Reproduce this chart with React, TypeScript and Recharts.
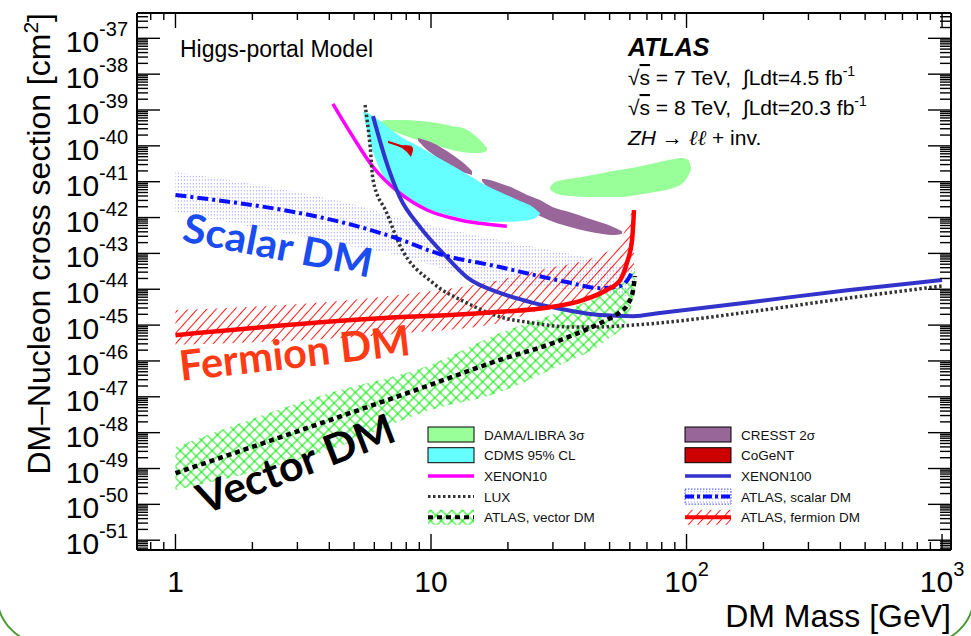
import React from "react";
import { Area, ComposedChart, Legend, Line, XAxis, YAxis } from "recharts";

const W = 971;
const H = 636;
const FONT = '"Liberation Sans", Arial, Helvetica, sans-serif';
const TAG_FONT = 'Lato, "Open Sans", "DejaVu Sans", sans-serif';

// axis ranges: DM mass in GeV, cross section in cm^2
const massRange = [0.707, 1084];
const xsecRange = [5.33e-52, 5.08e-37];
const massDecades = [-1, 0, 1, 2, 3];
const xsecDecades = [-52, -51, -50, -49, -48, -47, -46, -45, -44, -43, -42, -41, -40, -39, -38, -37];
const minorSteps = [1, 2, 3, 4, 5, 6, 7, 8, 9];

// all cross sections below are log10(sigma / cm^2)

// ATLAS, scalar DM
const scalarMass = [1.0, 8.05, 10.2, 18.6, 34, 45.8, 55, 60.1, 61.2];
const scalarLimit = [-41.37, -42.68, -42.96, -43.38, -43.8, -43.97, -43.91, -43.63, -43.52];
const scalarBandMass = [1.0, 2.09, 4.69, 7.55, 18.6, 45.8, 61.8];
const scalarBandLow = [-41.84, -42.29, -42.77, -43.06, -43.88, -44.07, -44.24];
const scalarBandHigh = [-40.73, -41.09, -41.59, -42.01, -42.63, -43.19, -43.41];

// ATLAS, fermion DM
const fermionMass = [1.0, 8.05, 11.9, 18.6, 29.2, 39.3, 48.7, 55, 58.4, 61.2, 62.3];
const fermionLimit = [-45.28, -44.77, -44.72, -44.63, -44.5, -44.3, -44.02, -43.74, -43.27, -42.63, -41.79];
const fermionBandMass = [1.0, 8.05, 18.6, 26.7, 45.8, 55, 62.3];
const fermionBandLow = [-45.55, -45.22, -44.94, -44.58, -44.16, -43.83, -43.52];
const fermionBandHigh = [-44.58, -44.13, -43.74, -43.46, -43.04, -42.63, -41.65];

// ATLAS, vector DM
const vectorMass = [1.0, 9.9, 18.6, 30.0, 35.9, 41.9, 47.0, 55.0, 59.0, 61.8, 62.8];
const vectorLimit = [-49.13, -46.67, -45.97, -45.5, -45.28, -45.08, -44.91, -44.63, -44.41, -44.02, -43.63];
const vectorBandMass = [1.0, 4.03, 9.91, 18.6, 32.0, 48.7, 58.5, 62.8];
const vectorBandLow = [-49.6, -48.48, -47.37, -46.87, -46.11, -45.42, -44.86, -44.08];
const vectorBandHigh = [-48.4, -46.89, -46.11, -45.22, -44.63, -44.08, -43.69, -43.41];

// direct detection limits
const xenon10Mass = [4.13, 4.95, 5.93, 7.55, 9.65, 13.0, 19.8];
const xenon10Limit = [-38.83, -39.75, -40.59, -41.32, -41.79, -42.07, -42.24];
const luxMass = [5.52, 5.78, 5.93, 6.71, 7.55, 10.2, 13.8, 18.6, 25.1, 34, 45.8, 61.8, 78.6, 177, 435, 1000];
const luxLimit = [-38.86, -40.03, -40.95, -41.87, -42.77, -43.83, -44.38, -44.77, -44.94, -45.05, -45.05, -45.0, -44.94, -44.63, -44.24, -43.91];
const xenon100Mass = [5.93, 6.71, 7.55, 9.05, 11.5, 13.8, 18.6, 25.1, 34, 45.8, 61.8, 78.6, 177, 435, 1000];
const xenon100Limit = [-39.17, -40.48, -41.43, -42.26, -43.1, -43.66, -44.1, -44.38, -44.58, -44.72, -44.75, -44.66, -44.36, -44.02, -43.74];

// signal regions
const damaLoMass = [6.32, 6.71, 7.77, 9.05, 10.56, 12.19, 13.35, 14.47, 15.55, 16.56];
const damaLoLow = [-39.39, -39.5, -39.7, -39.86, -40.0, -40.12, -40.17, -40.2, -40.2, -40.14];
const damaLoHigh = [-39.33, -39.28, -39.28, -39.31, -39.36, -39.45, -39.5, -39.64, -39.84, -40.06];
const damaHiMass = [29.2, 30.6, 35.0, 40.8, 47.0, 55.0, 64.0, 75.3, 86.2, 96.0, 101.4, 104.1];
const damaHiLow = [-41.2, -41.32, -41.4, -41.43, -41.43, -41.43, -41.37, -41.29, -41.2, -41.06, -40.84, -40.67];
const damaHiHigh = [-41.15, -41.01, -40.92, -40.84, -40.76, -40.67, -40.59, -40.48, -40.39, -40.34, -40.39, -40.59];
const cdmsMass = [5.42, 5.62, 5.93, 6.32, 6.91, 7.77, 9.05, 10.56, 12.4, 14.2, 16.6, 19.1, 22.3, 25.1, 26.7];
const cdmsLow = [-39.07, -39.56, -40.17, -40.67, -41.09, -41.43, -41.68, -41.85, -41.98, -42.07, -42.12, -42.12, -42.1, -42.04, -41.9];
const cdmsHigh = [-39.06, -39.08, -39.17, -39.31, -39.53, -39.78, -40.03, -40.31, -40.59, -40.84, -41.12, -41.32, -41.54, -41.71, -41.87];
const cresstLoMass = [8.9, 9.47, 10.37, 11.5, 12.64, 13.59, 14.47];
const cresstLoLow = [-39.86, -40.06, -40.28, -40.48, -40.65, -40.76, -40.81];
const cresstLoHigh = [-39.78, -39.84, -39.95, -40.14, -40.34, -40.51, -40.7];
const cresstHiMass = [15.83, 17.02, 18.6, 21.3, 23.8, 26.7, 30.0, 35.0, 40.8, 47.0, 51.6, 55.9];
const cresstHiLow = [-40.98, -41.23, -41.4, -41.59, -41.79, -41.96, -42.12, -42.26, -42.38, -42.46, -42.49, -42.46];
const cresstHiHigh = [-40.92, -40.95, -41.04, -41.2, -41.37, -41.51, -41.71, -41.85, -42.01, -42.15, -42.26, -42.38];
const cogentMass = [6.79, 7.23, 7.7, 8.05, 8.35, 8.5];
const cogentLow = [-39.92, -39.98, -40.06, -40.17, -40.31, -40.14];
const cogentHigh = [-39.86, -39.92, -39.98, -39.98, -40.0, -40.06];

const legendLeft = [
  { kind: "dama", label: "DAMA/LIBRA 3σ" },
  { kind: "cdms", label: "CDMS 95% CL" },
  { kind: "xenon10", label: "XENON10" },
  { kind: "lux", label: "LUX" },
  { kind: "vector", label: "ATLAS, vector DM" },
];
const legendRight = [
  { kind: "cresst", label: "CRESST 2σ" },
  { kind: "cogent", label: "CoGeNT" },
  { kind: "xenon100", label: "XENON100" },
  { kind: "scalar", label: "ATLAS, scalar DM" },
  { kind: "fermion", label: "ATLAS, fermion DM" },
];

const curve = (mass: number[], logs: number[]) => mass.map((m, i) => ({ m, v: 10 ** logs[i] }));
const band = (mass: number[], lo: number[], hi: number[]) =>
  mass.map((m, i) => ({ m, v: [10 ** lo[i], 10 ** hi[i]] }));

const inRange = (v: number, r: number[]) => v >= r[0] * 0.999 && v <= r[1] * 1.001;
const logTicks = (decades: number[], r: number[]) =>
  decades.flatMap((d) => minorSteps.map((k) => k * 10 ** d)).filter((v) => inRange(v, r));
const massTicks = logTicks(massDecades, massRange).filter((v) => v > 0.75);
const xsecTicks = logTicks(xsecDecades, xsecRange);

const decadeOf = (v: number) => {
  const l = Math.log10(v);
  const e = Math.round(l);
  return { e, major: Math.abs(l - e) < 1e-6 };
};

const C = {
  dama: "#99ff99",
  cdms: "#66ffff",
  cresst: "#996699",
  cogent: "#cc0000",
  xenon10: "#ff00ff",
  xenon100: "#3333cc",
  lux: "#333333",
  scalar: "#0a10ff",
  fermion: "#ff0000",
  vector: "#000000",
};

function LeftTick({ x, y, payload }: any) {
  const { e, major } = decadeOf(payload.value);
  return (
    <g>
      <line x1={x} x2={x + (major ? 23 : 11)} y1={y} y2={y} stroke="#000" strokeWidth={1.4} />
      {major && (
        <text x={x - 9} y={y + 14} textAnchor="end" fontFamily={FONT} fontSize={30} fill="#000">
          10<tspan dy={-16} fontSize={20}>{e}</tspan>
        </text>
      )}
    </g>
  );
}

function RightTick({ x, y, payload }: any) {
  const { major } = decadeOf(payload.value);
  return <line x1={x - (major ? 23 : 11)} x2={x} y1={y} y2={y} stroke="#000" strokeWidth={1.4} />;
}

function BottomTick({ x, y, payload }: any) {
  const { e, major } = decadeOf(payload.value);
  return (
    <g>
      <line x1={x} x2={x} y1={y} y2={y - (major ? 16 : 8)} stroke="#000" strokeWidth={1.4} />
      {major && (
        <text x={x} y={y + 42} textAnchor="middle" fontFamily={FONT} fontSize={30} fill="#000">
          {e === 0 ? "1" : e === 1 ? "10" : (
            <>
              10<tspan dy={-16} fontSize={20}>{e}</tspan>
            </>
          )}
        </text>
      )}
    </g>
  );
}

function TopTick({ x, y, payload }: any) {
  const { major } = decadeOf(payload.value);
  return <line x1={x} x2={x} y1={y} y2={y + (major ? 15 : 7)} stroke="#000" strokeWidth={1.4} />;
}

function Swatch({ kind, x, y }: { kind: string; x: number; y: number }) {
  const w = 46;
  const box = (fill: string, stroke = "#000") => (
    <rect x={x} y={y - 7.5} width={w} height={15} fill={fill} stroke={stroke} strokeWidth={1} />
  );
  switch (kind) {
    case "dama":
      return box(C.dama);
    case "cdms":
      return box(C.cdms);
    case "cresst":
      return box(C.cresst);
    case "cogent":
      return box(C.cogent);
    case "xenon10":
      return <line x1={x} x2={x + w} y1={y} y2={y} stroke={C.xenon10} strokeWidth={3.5} />;
    case "xenon100":
      return <line x1={x} x2={x + w} y1={y} y2={y} stroke={C.xenon100} strokeWidth={3.5} />;
    case "lux":
      return <line x1={x} x2={x + w} y1={y} y2={y} stroke={C.lux} strokeWidth={3} strokeDasharray="2.5 2.5" />;
    case "vector":
      return (
        <g>
          <rect x={x} y={y - 7.5} width={w} height={15} fill="url(#crossGreen)" />
          <line x1={x} x2={x + w} y1={y} y2={y} stroke={C.vector} strokeWidth={4} strokeDasharray="5 4" />
        </g>
      );
    case "scalar":
      return (
        <g>
          <rect x={x} y={y - 7.5} width={w} height={15} fill="url(#dotsBlue)" stroke="#3a46ff" strokeWidth={1} strokeDasharray="1.5 1.5" />
          <line x1={x} x2={x + w} y1={y} y2={y} stroke={C.scalar} strokeWidth={4} strokeDasharray="9 3 3 3" />
        </g>
      );
    case "fermion":
      return (
        <g>
          <rect x={x} y={y - 7.5} width={w} height={15} fill="url(#hatchRed)" />
          <line x1={x} x2={x + w} y1={y} y2={y} stroke={C.fermion} strokeWidth={4} />
        </g>
      );
    default:
      return null;
  }
}

function LegendBox() {
  const rowY = (i: number) => 14.5 + i * 20.7;
  const col = (items: typeof legendLeft, sx: number, tx: number) =>
    items.map((it, i) => (
      <g key={it.label}>
        <Swatch kind={it.kind} x={sx} y={rowY(i)} />
        <text x={tx} y={rowY(i) + 5} fontFamily={FONT} fontSize={13.5} fill="#111">
          {it.label}
        </text>
      </g>
    ));
  return (
    <svg width={520} height={110}>
      {col(legendLeft, 8, 64)}
      {col(legendRight, 265, 321)}
    </svg>
  );
}

const frame = { stroke: "#000", strokeWidth: 2 };

export default function App() {
  return (
    <div style={{ position: "absolute", left: 0, top: 0, width: W, height: H, overflow: "hidden", background: "#fff" }}>
      <ComposedChart width={W} height={H} margin={{ top: 12, right: 19, bottom: 85, left: 136 }}>
        <defs>
          <pattern id="dotsBlue" width={3} height={3.5} patternUnits="userSpaceOnUse">
            <rect x={0.8} y={1} width={1.2} height={1.1} fill="#4a4aff" fillOpacity={0.55} />
          </pattern>
          <pattern id="hatchRed" width={7} height={7} patternUnits="userSpaceOnUse" patternTransform="rotate(42)">
            <line x1={3.5} y1={0} x2={3.5} y2={7} stroke="#ff0000" strokeWidth={0.9} />
          </pattern>
          <pattern id="crossGreen" width={7.5} height={7.5} patternUnits="userSpaceOnUse" patternTransform="rotate(45)">
            <path d="M0 3.75 H7.5 M3.75 0 V7.5" stroke="#00e600" strokeWidth={1} fill="none" />
          </pattern>
        </defs>
        <XAxis xAxisId="b" dataKey="m" type="number" scale="log" domain={massRange} allowDataOverflow
          ticks={massTicks} interval={0} tickSize={0} tickMargin={0} height={1} axisLine={frame} tickLine={false} tick={BottomTick} />
        <XAxis xAxisId="t" orientation="top" dataKey="m" type="number" scale="log" domain={massRange} allowDataOverflow
          ticks={massTicks} interval={0} tickSize={0} tickMargin={0} height={1} axisLine={frame} tickLine={false} tick={TopTick} />
        <YAxis yAxisId="l" type="number" scale="log" domain={xsecRange} allowDataOverflow
          ticks={xsecTicks} interval={0} tickSize={0} tickMargin={0} width={1} axisLine={frame} tickLine={false} tick={LeftTick} />
        <YAxis yAxisId="r" orientation="right" type="number" scale="log" domain={xsecRange} allowDataOverflow
          ticks={xsecTicks} interval={0} tickSize={0} tickMargin={0} width={1} axisLine={frame} tickLine={false} tick={RightTick} />

        {/* signal regions */}
        <Area xAxisId="b" yAxisId="l" data={band(damaLoMass, damaLoLow, damaLoHigh)} dataKey="v" type="monotone" stroke="none" fill={C.dama} fillOpacity={1} isAnimationActive={false} />
        <Area xAxisId="b" yAxisId="l" data={band(damaHiMass, damaHiLow, damaHiHigh)} dataKey="v" type="monotone" stroke="none" fill={C.dama} fillOpacity={1} isAnimationActive={false} />
        <Area xAxisId="b" yAxisId="l" data={band(cresstLoMass, cresstLoLow, cresstLoHigh)} dataKey="v" type="monotone" stroke="none" fill={C.cresst} fillOpacity={1} isAnimationActive={false} />
        <Area xAxisId="b" yAxisId="l" data={band(cresstHiMass, cresstHiLow, cresstHiHigh)} dataKey="v" type="monotone" stroke="none" fill={C.cresst} fillOpacity={1} isAnimationActive={false} />
        <Area xAxisId="b" yAxisId="l" data={band(cdmsMass, cdmsLow, cdmsHigh)} dataKey="v" type="monotone" stroke="none" fill={C.cdms} fillOpacity={1} isAnimationActive={false} />
        <Area xAxisId="b" yAxisId="l" data={band(cogentMass, cogentLow, cogentHigh)} dataKey="v" type="linear" stroke="none" fill={C.cogent} fillOpacity={1} isAnimationActive={false} />

        {/* direct detection limits */}
        <Line xAxisId="b" yAxisId="l" data={curve(xenon10Mass, xenon10Limit)} dataKey="v" type="monotone" stroke={C.xenon10} strokeWidth={3.5} dot={false} isAnimationActive={false} />
        <Line xAxisId="b" yAxisId="l" data={curve(luxMass, luxLimit)} dataKey="v" type="monotone" stroke={C.lux} strokeWidth={3.5} strokeDasharray="2.5 2.5" dot={false} isAnimationActive={false} />
        <Line xAxisId="b" yAxisId="l" data={curve(xenon100Mass, xenon100Limit)} dataKey="v" type="monotone" stroke={C.xenon100} strokeWidth={4} dot={false} isAnimationActive={false} />

        {/* ATLAS Higgs-portal bands and limits */}
        <Area xAxisId="b" yAxisId="l" data={band(scalarBandMass, scalarBandLow, scalarBandHigh)} dataKey="v" type="monotone" stroke="none" fill="url(#dotsBlue)" fillOpacity={1} isAnimationActive={false} />
        <Area xAxisId="b" yAxisId="l" data={band(vectorBandMass, vectorBandLow, vectorBandHigh)} dataKey="v" type="monotone" stroke="none" fill="url(#crossGreen)" fillOpacity={1} isAnimationActive={false} />
        <Area xAxisId="b" yAxisId="l" data={band(fermionBandMass, fermionBandLow, fermionBandHigh)} dataKey="v" type="monotone" stroke="none" fill="url(#hatchRed)" fillOpacity={1} isAnimationActive={false} />
        <Line xAxisId="b" yAxisId="l" data={curve(scalarMass, scalarLimit)} dataKey="v" type="monotone" stroke={C.scalar} strokeWidth={4} strokeDasharray="11 4 3 4" dot={false} isAnimationActive={false} />
        <Line xAxisId="b" yAxisId="l" data={curve(vectorMass, vectorLimit)} dataKey="v" type="monotone" stroke={C.vector} strokeWidth={4.5} strokeDasharray="5 4" dot={false} isAnimationActive={false} />
        <Line xAxisId="b" yAxisId="l" data={curve(fermionMass, fermionLimit)} dataKey="v" type="monotone" stroke={C.fermion} strokeWidth={4.5} dot={false} isAnimationActive={false} />

        <Legend layout="vertical" align="center" verticalAlign="middle" content={LegendBox}
          wrapperStyle={{ left: 420, top: 420, width: 520, height: 110 }} />
      </ComposedChart>

      <svg width={W} height={H} style={{ position: "absolute", left: 0, top: 0, pointerEvents: "none" }} fontFamily={FONT}>
        <text transform="translate(50,13) rotate(-90)" textAnchor="end" fontSize={32} fill="#000">
          DM–Nucleon cross section [cm<tspan dy={-12} fontSize={21}>2</tspan><tspan dy={12}>]</tspan>
        </text>
        <text x={951} y={627} textAnchor="end" fontSize={32} fill="#000">DM Mass [GeV]</text>
        <text x={180} y={57} fontSize={23} fill="#000">Higgs-portal Model</text>

        <text x={628} y={56} fontSize={25} fontWeight="bold" fontStyle="italic" fill="#000">ATLAS</text>
        <text x={628} y={85} fontSize={21} fill="#000">
          √<tspan textDecoration="overline">s</tspan> = 7 TeV,{"\u00a0\u00a0"}∫Ldt=4.5 fb<tspan dy={-9} fontSize={14}>-1</tspan>
        </text>
        <text x={628} y={115} fontSize={21} fill="#000">
          √<tspan textDecoration="overline">s</tspan> = 8 TeV,{"\u00a0\u00a0"}∫Ldt=20.3 fb<tspan dy={-9} fontSize={14}>-1</tspan>
        </text>
        <text x={628} y={145} fontSize={21} fill="#000">
          <tspan fontStyle="italic">ZH</tspan> → <tspan fontStyle="italic" fontFamily="DejaVu Serif">ℓℓ</tspan> + inv.
        </text>

        <g fontFamily={TAG_FONT} fontWeight="bold">
          <text transform="translate(181,241) rotate(11)" fontSize={40} fill="#1a4cf0" textLength={192} lengthAdjust="spacingAndGlyphs">Scalar DM</text>
          <text transform="translate(181,381) rotate(-6.5)" fontSize={42} fill="#ff3a14" textLength={232} lengthAdjust="spacingAndGlyphs">Fermion DM</text>
          <text transform="translate(204,515) rotate(-21)" fontSize={42} fill="#000" textLength={208} lengthAdjust="spacingAndGlyphs">Vector DM</text>
        </g>
      </svg>

      <div style={{ position: "absolute", left: -4, top: -60, width: 979, height: 705, border: "2.5px solid #4a9a36", borderRadius: 50, boxSizing: "border-box", pointerEvents: "none" }} />
    </div>
  );
}
